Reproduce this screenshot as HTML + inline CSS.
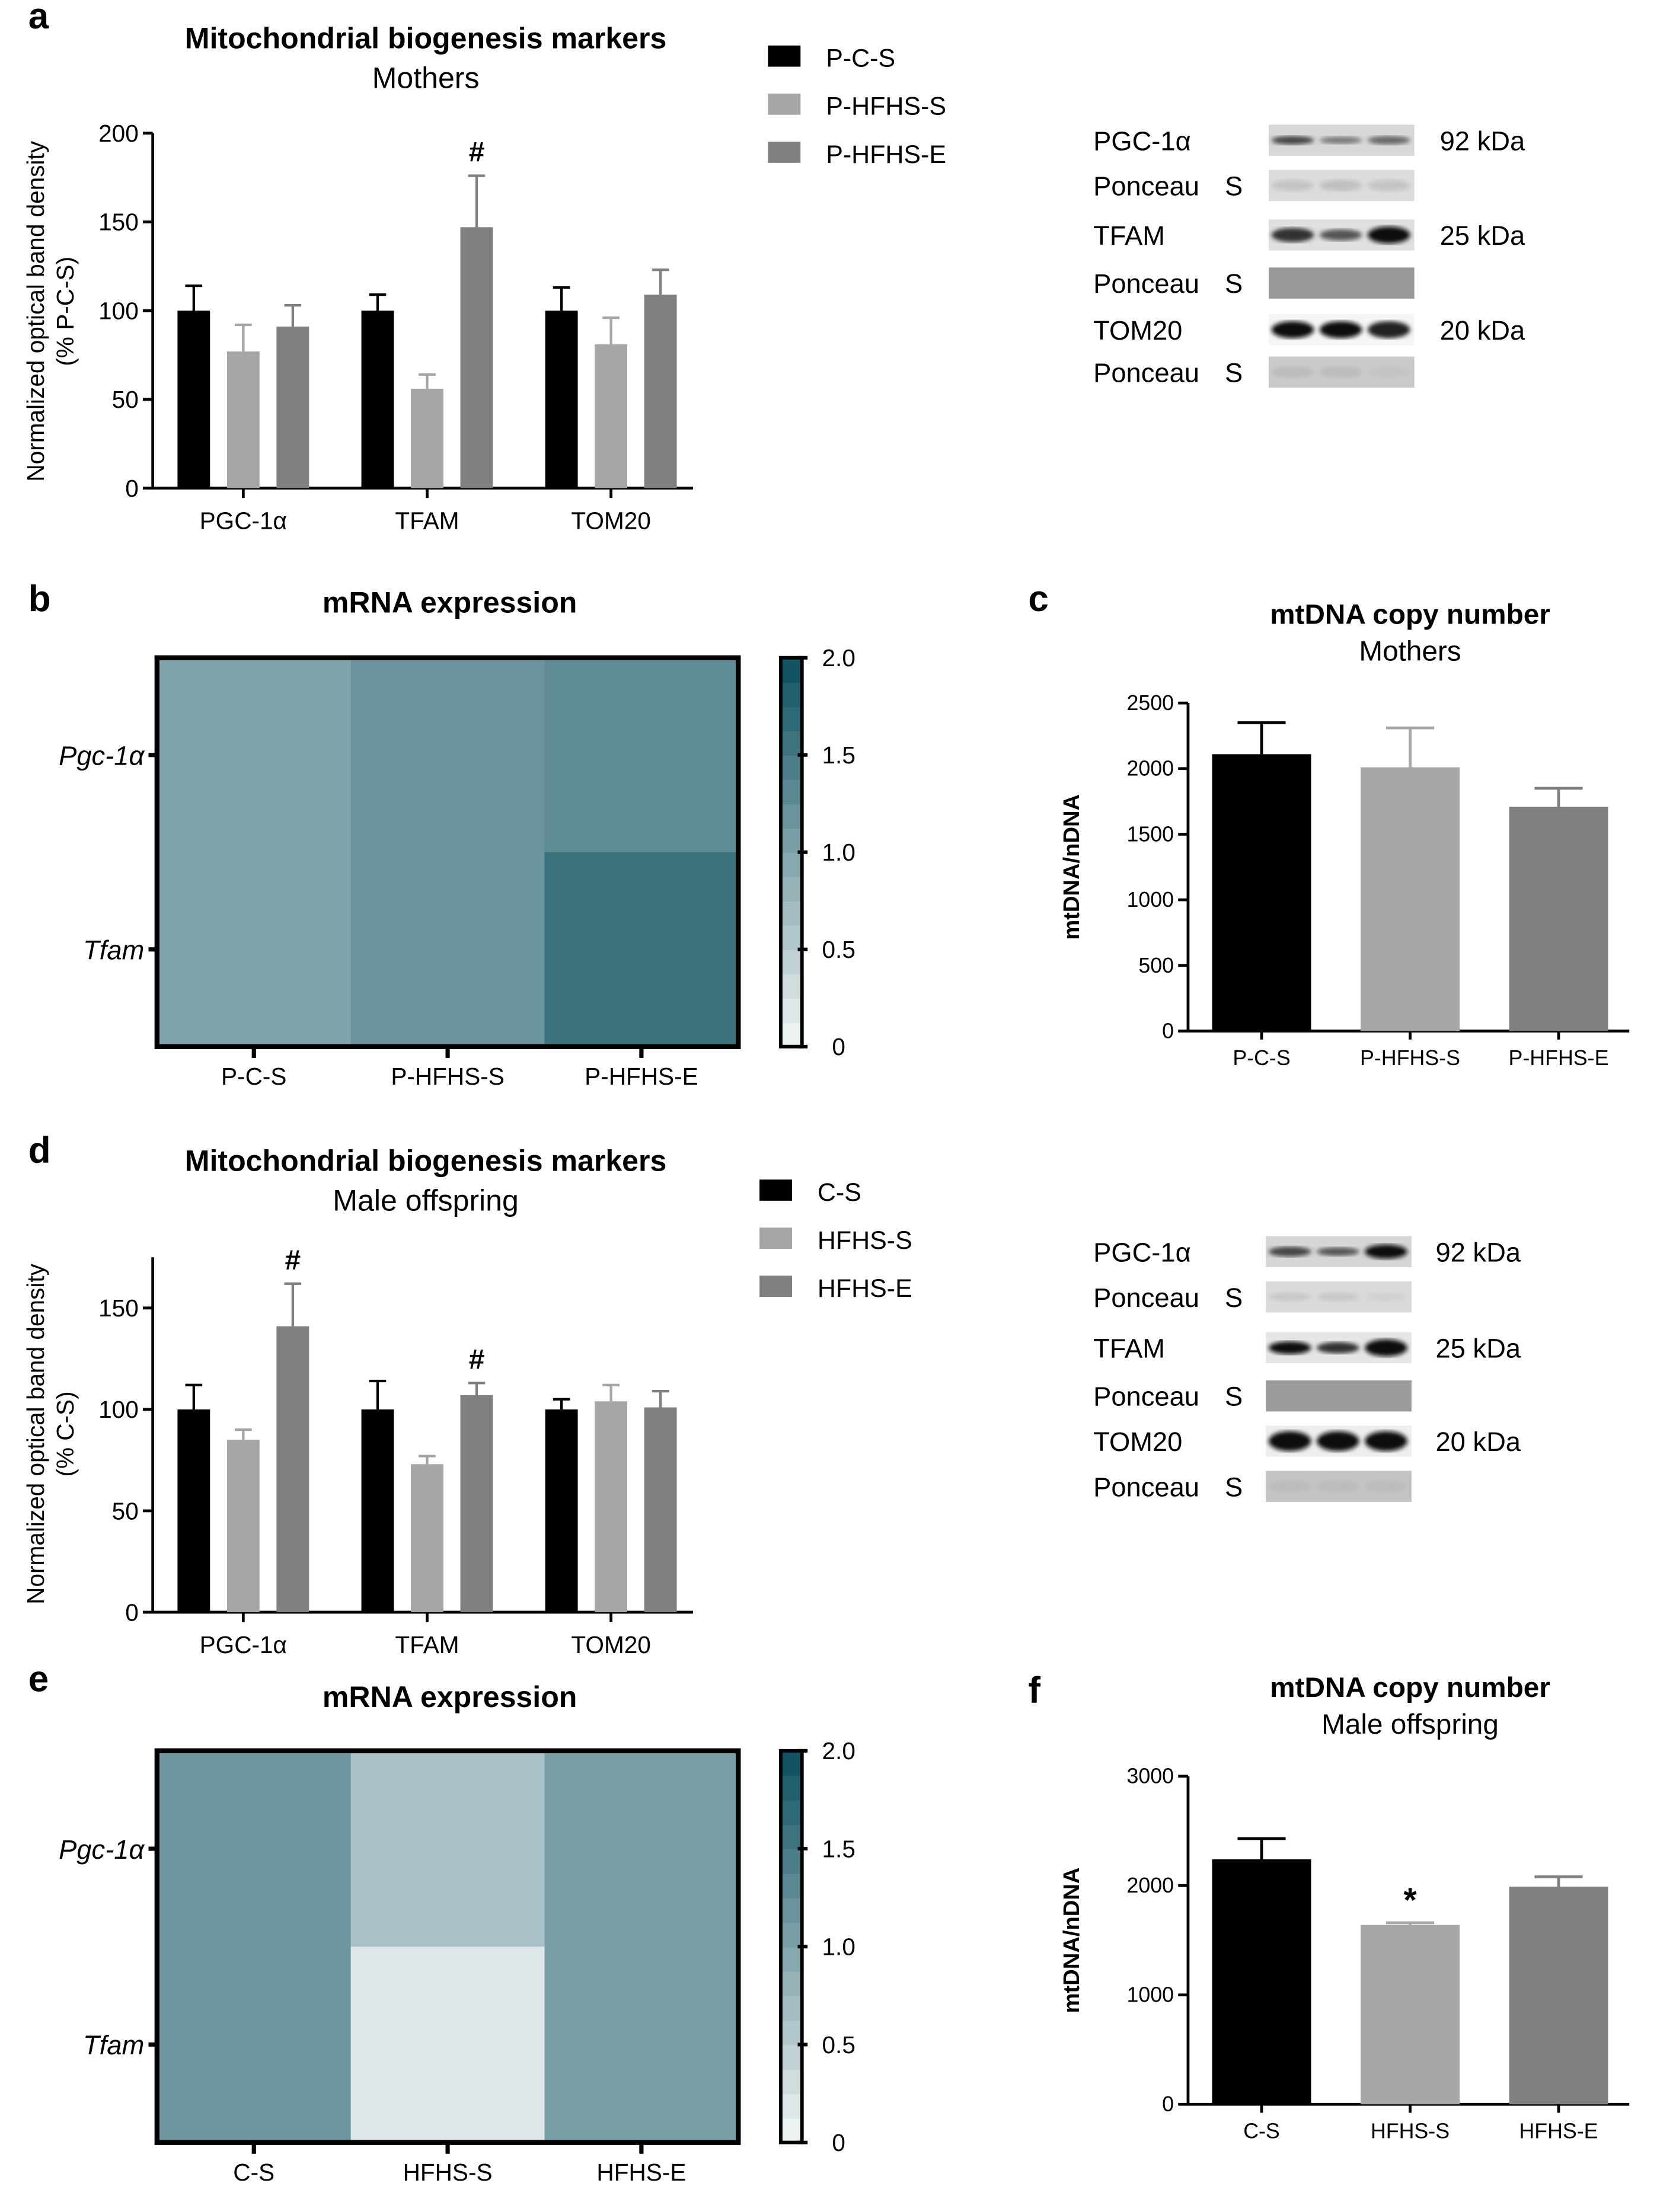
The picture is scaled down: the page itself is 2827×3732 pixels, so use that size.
<!DOCTYPE html>
<html><head><meta charset="utf-8"><style>
html,body{margin:0;padding:0;background:#fff;}
svg{display:block;}
text{font-family:"Liberation Sans",Arial,sans-serif;fill:#000;}
</style></head><body>
<svg id="fig" width="2827" height="3732" viewBox="0 0 1185 1564" xmlns="http://www.w3.org/2000/svg">
<defs>
<filter id="blur1"><feGaussianBlur stdDeviation="1.6"/></filter>
</defs>
</svg>
<script>
// ---- Data ----
const barGroups = ["PGC-1α","TFAM","TOM20"];
const motherSeries = ["P-C-S","P-HFHS-S","P-HFHS-E"];
const motherMean = [[100,77,91],[100,56,147],[100,81,109]];
const motherErr = [[14,15,12],[9,8,29],[13,15,14]];
const motherSig = [["","",""],["","","#"],["","",""]];
const motherTicks = [0,50,100,150,200];
const offSeries = ["C-S","HFHS-S","HFHS-E"];
const offMean = [[100,85,141],[100,73,107],[100,104,101]];
const offErr = [[12,5,21],[14,4,6],[5,8,8]];
const offSig = [["","","#"],["","","#"],["","",""]];
const offTicks = [0,50,100,150];
const heatGenes = ["Pgc-1α","Tfam"];
const heatMother = [[1.0,1.18,1.28],[1.0,1.18,1.6]];
const heatOff = [[1.14,0.64,1.05],[1.14,0.2,1.05]];
const cbTicks = [0,0.5,1.0,1.5,2.0];
const mtMotherMean = [2110,2010,1710];
const mtMotherErr = [240,300,140];
const mtMotherTicks = [0,500,1000,1500,2000,2500];
const mtOffMean = [2240,1640,1990];
const mtOffErr = [190,20,90];
const mtOffSig = ["","*",""];
const mtOffTicks = [0,1000,2000,3000];
const barColors = ["#000000","#a6a6a6","#808080"];

const NS="http://www.w3.org/2000/svg";
const svg=document.getElementById('fig');
function mk(tag,attrs,parent){const e=document.createElementNS(NS,tag);for(const k in attrs)e.setAttribute(k,attrs[k]);(parent||svg).appendChild(e);return e;}
function txt(s,x,y,size,opts,parent){opts=opts||{};const e=mk('text',{x:x,y:y,'font-size':size,'text-anchor':opts.anchor||'start','font-weight':opts.bold?'bold':'normal','font-style':opts.italic?'italic':'normal'},parent);if(opts.rot)e.setAttribute('transform','rotate(-90 '+x+' '+y+')');e.textContent=s;return e;}

function panelLabel(s,x,y){const t=txt(s,x,y,26,{bold:true});

}

function groupedBar(o){
  const g=mk('g',{});
  
  
  const y=v=>o.y0-(v/o.ymax)*(o.y0-o.ytop);
  const ax=mk('path',{d:`M${o.x0} ${o.ytop} V${o.y0} H${o.x1}`,stroke:'#000','stroke-width':2,fill:'none'},g);
  
  
  o.ticks.forEach(t=>{
    const tk=mk('line',{x1:o.x0-7,x2:o.x0,y1:y(t),y2:y(t),stroke:'#000','stroke-width':2},g);
    
    
    const tl=txt(String(t),o.x0-10,y(t)+6,17,{anchor:'end'},g);
    
    
  });
  o.groups.forEach((gname,gi)=>{
    const gc=o.gx0+gi*o.gstep;
    const xt=mk('line',{x1:gc,x2:gc,y1:o.y0,y2:o.y0+7,stroke:'#000','stroke-width':2},g);
    
    
    const xl=txt(gname,gc,o.y0+29,17,{anchor:'middle'},g);
    
    
    o.mean[gi].forEach((v,si)=>{
      const bx=gc-o.bw*1.5-o.gap+si*(o.bw+o.gap);
      const top=y(v+o.err[gi][si]);
      const eb=mk('path',{d:`M${bx+o.bw/2} ${y(v)} V${top} M${bx+o.bw/2-6} ${top} H${bx+o.bw/2+6}`,stroke:barColors[si],'stroke-width':1.8,fill:'none'},g);
      
      
      const r=mk('rect',{x:bx,y:y(v),width:o.bw,height:o.y0-y(v),fill:barColors[si]},g);
      
      
      if(o.sig[gi][si]){const s=txt(o.sig[gi][si],bx+o.bw/2,top-10,20,{anchor:'middle',bold:true},g);
        
        }
    });
  });
  const t1=txt(o.title,301,o.titleY,21,{anchor:'middle',bold:true},g);
  
  
  const t2=txt(o.sub,301,o.titleY+28,21,{anchor:'middle'},g);
  
  
  const yl1=txt('Normalized optical band density',31,o.ylabY,17,{anchor:'middle',rot:true},g);
  
  
  const yl2=txt(o.ylab2,52,o.ylabY,17,{anchor:'middle',rot:true},g);
  
  
  o.series.forEach((s,si)=>{
    const ly=o.legY+si*34;
    const lr=mk('rect',{x:o.legX,y:ly-8,width:23,height:15,fill:barColors[si]},g);
    
    
    const lt=txt(s,o.legX+41,ly+7,18,{},g);
    
    
  });
}

function mixColor(v){const t=Math.max(0,Math.min(1,v/2));const a=[244,247,247],b=[11,79,94];
  return 'rgb('+a.map((c,i)=>Math.round(c+(b[i]-c)*t)).join(',')+')';}
function heatmap(o){
  const g=mk('g',{});
  
  
  const cw=(o.x1-o.x0)/o.cols.length, ch=(o.y1-o.y0)/heatGenes.length;
  o.vals.forEach((row,ri)=>row.forEach((v,ci)=>{
    const c=mk('rect',{x:o.x0+ci*cw,y:o.y0+ri*ch,width:cw+0.5,height:ch+0.5,fill:mixColor(v)},g);
    
    
  }));
  const fr=mk('rect',{x:o.x0,y:o.y0,width:o.x1-o.x0,height:o.y1-o.y0,fill:'none',stroke:'#000','stroke-width':3.5},g);
  
  
  heatGenes.forEach((gn,ri)=>{
    const yy=o.y0+(ri+0.5)*ch;
    const tk=mk('line',{x1:o.x0-6,x2:o.x0,y1:yy,y2:yy,stroke:'#000','stroke-width':3},g);
    
    
    const tl=txt(gn,o.x0-9,yy+7,19,{anchor:'end',italic:true},g);
    
    
  });
  o.cols.forEach((cn,ci)=>{
    const xx=o.x0+(ci+0.5)*cw;
    const tk=mk('line',{x1:xx,x2:xx,y1:o.y1,y2:o.y1+8,stroke:'#000','stroke-width':3},g);
    
    
    const tl=txt(cn,xx,o.y1+27,17,{anchor:'middle'},g);
    
    
  });
  const cbx=552,cbw=15,n=16;
  for(let i=0;i<n;i++){
    const v0=i*2/n;
    const yy=o.y1-(i+1)*(o.y1-o.y0)/n;
    const s=mk('rect',{x:cbx,y:yy,width:cbw,height:(o.y1-o.y0)/n+0.5,fill:mixColor(v0+1/n)},g);
    
    
  }
  const cf=mk('rect',{x:cbx,y:o.y0,width:cbw,height:o.y1-o.y0,fill:'none',stroke:'#000','stroke-width':2.5},g);
  
  
  cbTicks.forEach(t=>{
    const yy=o.y1-(t/2)*(o.y1-o.y0);
    const tk=mk('line',{x1:cbx+cbw-3,x2:cbx+cbw+4,y1:yy,y2:yy,stroke:'#000','stroke-width':2.5},g);
    
    
    const tl=txt(t===0?'0':t.toFixed(1),593,yy+6,17,{anchor:'middle'},g);
    
    
  });
  const ti=txt('mRNA expression',318,o.titleY,21,{anchor:'middle',bold:true},g);
  
  
}

function simpleBar(o){
  const g=mk('g',{});
  
  
  const y=v=>o.y0-(v/o.ymax)*(o.y0-o.ytop);
  const ax=mk('path',{d:`M${o.x0} ${o.ytop} V${o.y0} H1152`,stroke:'#000','stroke-width':2,fill:'none'},g);
  
  
  o.ticks.forEach(t=>{
    const tk=mk('line',{x1:o.x0-7,x2:o.x0,y1:y(t),y2:y(t),stroke:'#000','stroke-width':2},g);
    
    
    const tl=txt(String(t),o.x0-10,y(t)+5,15,{anchor:'end'},g);
    
    
  });
  o.cats.forEach((c,i)=>{
    const cx=892+i*105, v=o.mean[i], top=y(v+o.err[i]);
    const eb=mk('path',{d:`M${cx} ${y(v)} V${top} M${cx-17} ${top} H${cx+17}`,stroke:barColors[i],'stroke-width':2,fill:'none'},g);
    
    
    const r=mk('rect',{x:cx-35,y:y(v),width:70,height:o.y0-y(v),fill:barColors[i]},g);
    
    
    const xt=mk('line',{x1:cx,x2:cx,y1:o.y0,y2:o.y0+6,stroke:'#000','stroke-width':2},g);
    
    
    const xl=txt(c,cx,o.y0+24,15,{anchor:'middle'},g);
    
    
    if(o.sig&&o.sig[i]){const s=txt(o.sig[i],cx,top-8,24,{anchor:'middle',bold:true},g);
      
      }
  });
  const t1=txt('mtDNA copy number',997,o.titleY,20,{anchor:'middle',bold:true},g);
  
  
  const t2=txt(o.sub,997,o.titleY+26,20,{anchor:'middle'},g);
  
  
  const yl=txt('mtDNA/nDNA',763,(o.y0+o.ytop)/2,16,{anchor:'middle',bold:true,rot:true},g);
  
  
}

function blots(o){
  const g=mk('g',{});
  
  
  const names=['PGC-1α','Ponceau','TFAM','Ponceau','TOM20','Ponceau'];
  const kda=['92 kDa','','25 kDa','','20 kDa',''];
  names.forEach((n,i)=>{
    const yy=o.rows[i];
    const l=txt(n,o.lx,yy+7,19,{},g);
    
    
    if(n==='Ponceau'){const s=txt('S',o.lx+93,yy+7,19,{},g);
      
      }
    const bg=mk('rect',{x:o.bx,y:yy-11,width:103,height:22,fill:o.bg[i]},g);
    
    
    o.bands[i].forEach((b,j)=>{
      if(!b)return;
      const e=mk('ellipse',{cx:o.bx+17+j*34,cy:yy,rx:15,ry:b[1],fill:b[0],filter:'url(#blur1)'},g);
      
      
    });
    if(kda[i]){const k=txt(kda[i],o.kx,yy+7,19,{},g);
      
      }
  });
}

panelLabel('a',20,20);
groupedBar({name:'mothers-protein-chart',x0:108,x1:490,y0:345,ytop:94,ymax:200,ticks:motherTicks,groups:barGroups,gx0:172,gstep:130,bw:23,gap:12,
  mean:motherMean,err:motherErr,sig:motherSig,title:'Mitochondrial biogenesis markers',sub:'Mothers',titleY:34,ylab2:'(% P-C-S)',ylabY:220,series:motherSeries,legX:543,legY:40});
blots({name:'mothers-western-blots',lx:773,bx:897,kx:1018,rows:[99,131,166,200,233,263],
  bg:['#d8d8d8','#dcdcdc','#e0e0e0','#999999','#f6f6f6','#cacaca'],
  bands:[[['#444',3],['#777',2.5],['#666',3]],[['#c4c4c4',4],['#c0c0c0',4],['#c4c4c4',4]],[['#333',5],['#555',4],['#111',6]],[null,null,null],[['#111',6],['#111',6],['#222',6]],[['#bbb',4],['#bbb',4],['#c4c4c4',4]]]});

panelLabel('b',20,432);
heatmap({name:'mothers-mrna-heatmap',x0:111,x1:522,y0:465,y1:740,cols:motherSeries,vals:heatMother,titleY:433});
panelLabel('c',727,432);
simpleBar({name:'mothers-mtdna-chart',x0:840,y0:729,ytop:497,ymax:2500,ticks:mtMotherTicks,cats:motherSeries,mean:mtMotherMean,err:mtMotherErr,sub:'Mothers',titleY:441});

panelLabel('d',20,822);
groupedBar({name:'offspring-protein-chart',x0:108,x1:490,y0:1140,ytop:889,ymax:175,ticks:offTicks,groups:barGroups,gx0:172,gstep:130,bw:23,gap:12,
  mean:offMean,err:offErr,sig:offSig,title:'Mitochondrial biogenesis markers',sub:'Male offspring',titleY:828,ylab2:'(% C-S)',ylabY:1014,series:offSeries,legX:537,legY:842});
blots({name:'offspring-western-blots',lx:773,bx:895,kx:1015,rows:[885,917,953,987,1019,1051],
  bg:['#d6d6d6','#dadada','#e6e6e6','#9c9c9c','#eeeeee','#c4c4c4'],
  bands:[[['#444',3.5],['#555',3],['#111',5]],[['#c8c8c8',3],['#c8c8c8',3],['#d0d0d0',3]],[['#111',4.5],['#333',4],['#111',6]],[null,null,null],[['#111',7],['#111',7],['#111',7]],[['#bbb',4],['#bbb',4],['#bbb',4]]]});

panelLabel('e',20,1196);
heatmap({name:'offspring-mrna-heatmap',x0:111,x1:522,y0:1238,y1:1515,cols:offSeries,vals:heatOff,titleY:1207});
panelLabel('f',727,1204);
simpleBar({name:'offspring-mtdna-chart',x0:840,y0:1488,ytop:1256,ymax:3000,ticks:mtOffTicks,cats:offSeries,mean:mtOffMean,err:mtOffErr,sig:mtOffSig,sub:'Male offspring',titleY:1200});
</script>
</body></html>
